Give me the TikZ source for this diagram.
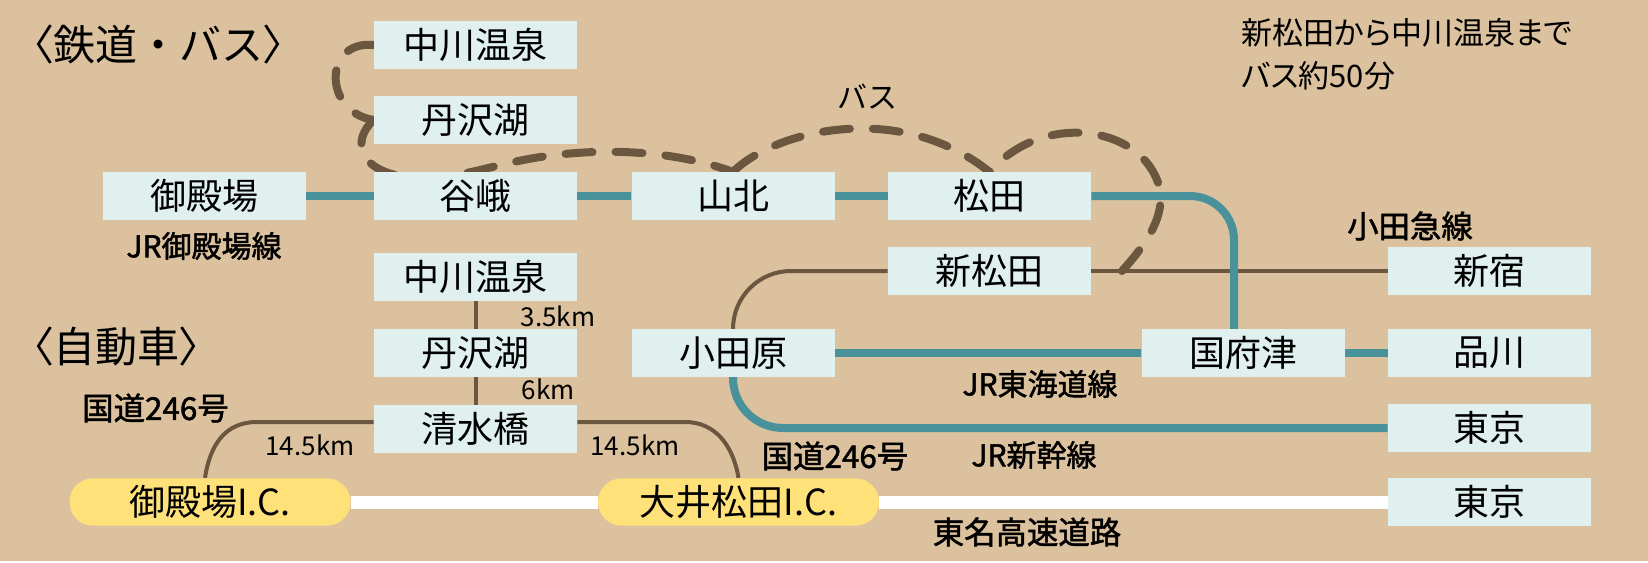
\documentclass[tikz,border=0pt]{standalone}
\usepackage{fontspec}
\usetikzlibrary{backgrounds}
\setmainfont{Noto Sans CJK JP}
\newfontfamily\propfont[RawFeature=+palt]{Noto Sans CJK JP}
\newfontfamily\midfont[FakeBold=1.6]{Noto Sans CJK JP}
\definecolor{cGround}{HTML}{DBC19D}
\definecolor{cStation}{HTML}{E0F0EF}
\definecolor{cRail}{HTML}{4A929B}
\definecolor{cRoad}{HTML}{6B5640}
\definecolor{cExit}{HTML}{FFE17A}
\tikzset{
  station/.style={draw=none,fill=cStation,inner sep=0pt,minimum width=101.5pt,minimum height=23.7pt,
                  font=\fontsize{18}{18}\selectfont},
  exit/.style={draw=none,fill=cExit,rounded corners=11.8pt,inner sep=0pt,minimum width=140.5pt,
               minimum height=23.7pt,font=\fontsize{18}{18}\selectfont},
  rail/.style={line width=4pt,draw=cRail},
  road/.style={line width=2pt,draw=cRoad},
  highway/.style={line width=6.5pt,draw=white},
  bus/.style={line width=4pt,draw=cRoad,line cap=round,dash pattern=on 13.5pt off 11.5pt},
  head/.style={font=\fontsize{21}{21}\selectfont,anchor=west,inner sep=0pt},
  line name/.style={font=\midfont\fontsize{15}{15}\selectfont,inner sep=0pt},
  wide name/.style={font=\midfont\fontsize{15.7}{15.7}\selectfont,inner sep=0pt},
  note/.style={font=\propfont\fontsize{15.5}{21.5}\selectfont,align=left,anchor=north west,inner sep=0pt},
  dist/.style={font=\fontsize{13}{13}\selectfont,inner sep=0pt}
}
\begin{document}
\begin{tikzpicture}[x=0.5pt,y=-0.5pt]
  \useasboundingbox (0,0) rectangle (1648,562);

  % rail map
  \node[station] (onsenA) at (475.5,45) {中川温泉};
  \node[station] (lakeA) at (475.5,120) {丹沢湖};
  \node[station] (gotemba) at (204.5,196) {御殿場};
  \node[station] (yaga) at (475.5,196) {谷峨};
  \node[station] (yamakita) at (733,196) {山北};
  \node[station] (matsuda) at (989.5,196) {松田};
  \node[station] (shinmatsuda) at (989.5,271) {新松田};
  \node[station] (shinjuku) at (1489.5,271) {新宿};
  \node[station] (odawara) at (733,353) {小田原};
  \node[station] (kozu) at (1243,353) {国府津};
  \node[station] (shinagawa) at (1489.5,353) {品川};
  \node[station] (tokyoA) at (1489.5,428) {東京};

  % road map
  \node[station] (onsenB) at (475.5,277) {中川温泉};
  \node[station] (lakeB) at (475.5,353) {丹沢湖};
  \node[station] (shimizu) at (475.5,429) {清水橋};
  \node[station] (tokyoB) at (1489.5,502) {東京};
  \node[exit] (icA) at (210,502) {御殿場I.C.};
  \node[exit] (icB) at (738.5,502) {大井松田I.C.};

  \node[head] (railhead) at (32,45) {{\propfont 〈}鉄道・バス{\propfont 〉}};
  \node[head] (carhead) at (32,347) {{\propfont 〈}自動車{\propfont 〉}};
  \node[font=\fontsize{15}{15}\selectfont,inner sep=0pt] (buslabel) at (867,97) {バス};
  \node[note] (busnote) at (1241,18) {新松田から中川温泉まで\\バス約50分};
  \node[line name] (gotembaline) at (204,246) {JR御殿場線};
  \node[wide name] (odakyu) at (1410,226) {小田急線};
  \node[line name] (tokaido) at (1040,384) {JR東海道線};
  \node[line name] (shinkansen) at (1034,455) {JR新幹線};
  \node[wide name] (routeA) at (155.5,408) {国道246号};
  \node[wide name] (routeB) at (835,456) {国道246号};
  \node[wide name] (tomei) at (1027,532) {東名高速道路};
  \node[dist] (distA) at (558,316) {3.5km};
  \node[dist] (distB) at (548,389) {6km};
  \node[dist] (distC) at (310,445) {14.5km};
  \node[dist] (distD) at (635,445) {14.5km};
  \coordinate (busend) at (1122,271);

  \begin{scope}[on background layer]
    \fill[cGround] (0,0) rectangle (1648,561);
    \draw[bus] (onsenA.west) .. controls (323,40) and (323,112) .. (lakeA.west);
    \draw[bus] (lakeA.west) .. controls (352,140) and (358,168) .. (400,176)
      .. controls (440,182) and (470,172) .. (505,164)
      .. controls (570,148) and (660,145) .. (yamakita.north);
    \draw[bus] (yamakita.north) .. controls (775,130) and (900,100) .. (matsuda.north);
    \draw[bus] (busend) .. controls (1150,240) and (1174,205) .. (1152,170)
      .. controls (1125,125) and (1040,115) .. (matsuda.north);

    \draw[road,rounded corners=29pt] (shinmatsuda.west) -| (odawara.north);
    \draw[road] (shinmatsuda) -- (shinjuku);
    \draw[rail] (gotemba) -- (yaga);
    \draw[rail] (yaga) -- (yamakita);
    \draw[rail] (yamakita) -- (matsuda);
    \draw[rail,rounded corners=22pt] (matsuda.east) -| ([xshift=-4.5pt]kozu.north);
    \draw[rail] (odawara) -- (kozu);
    \draw[rail] (kozu) -- (shinagawa);
    \draw[rail,rounded corners=25pt] (odawara.south) |- (tokyoA.west);

    \draw[road] (onsenB) -- (lakeB);
    \draw[road] (lakeB) -- (shimizu);
    \draw[road] ([yshift=3.5pt]shimizu.west) -- (257,422) .. controls (225,422) and (210,445) .. ([xshift=-2.5pt]icA.north);
    \draw[road] ([yshift=3.5pt]shimizu.east) -- (685,422) .. controls (715,422) and (733,445) .. (icB.north);
    \draw[highway] (icA) -- (icB);
    \draw[highway] (icB) -- (tokyoB);
  \end{scope}
\end{tikzpicture}
\end{document}
